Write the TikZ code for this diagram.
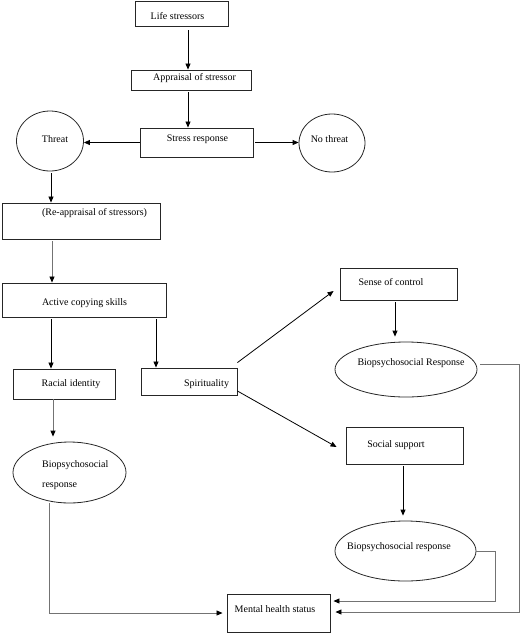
\documentclass[tikz,border=0pt]{standalone}
\usepackage{fontspec}
\setmainfont{Liberation Serif}
\usetikzlibrary{shapes.geometric,arrows.meta}
\begin{document}
\begin{tikzpicture}[x=1pt,y=-1pt,
  box/.style={draw=black!85,line width=0.9pt,rectangle,inner sep=0pt},
  oval/.style={draw=black!85,line width=0.8pt,ellipse,inner sep=0pt},
  txt/.style={inner sep=0pt,font=\fontsize{10}{12}\selectfont,anchor=center},
  arr/.style={draw=black,line width=0.8pt,-{Triangle[length=6pt,width=5pt]}},
  garr/.style={draw=black!55,line width=0.8pt,-{Triangle[length=6pt,width=5pt,color=black]}}]
\useasboundingbox (0,0) rectangle (521,633);
% boxes
\node[box,minimum width=93pt,minimum height=25pt] (life) at (181.5,13.5) {};
\node[box,minimum width=120pt,minimum height=20pt] (appr) at (191,80) {};
\node[box,minimum width=113pt,minimum height=29pt] (stress) at (196.5,142.5) {};
\node[oval,minimum width=67pt,minimum height=60pt] (threat) at (50,141) {};
\node[oval,minimum width=66pt,minimum height=58pt] (nothreat) at (332,143) {};
\node[box,minimum width=158pt,minimum height=36pt] (reapp) at (81,221) {};
\node[box,minimum width=164pt,minimum height=34pt] (active) at (84,300) {};
\node[box,minimum width=102pt,minimum height=30pt] (racial) at (64,384) {};
\node[box,minimum width=96pt,minimum height=27pt] (spirit) at (189,381.5) {};
\node[box,minimum width=117pt,minimum height=32pt] (sense) at (398.5,284) {};
\node[oval,minimum width=142pt,minimum height=55pt] (bioA) at (406,369.5) {};
\node[box,minimum width=117pt,minimum height=37pt] (social) at (404.5,445.5) {};
\node[oval,minimum width=141pt,minimum height=60pt] (bioB) at (405.5,551) {};
\node[oval,minimum width=113pt,minimum height=61pt] (bioL) at (69.5,472.5) {};
\node[box,minimum width=103pt,minimum height=38pt] (mental) at (278.5,613) {};
% texts
\node[txt] (tlife) at (177.5,16) {Life stressors};
\node[txt] (tappr) at (194.5,78) {Appraisal of stressor};
\node[txt] (tstress) at (197.5,139) {Stress response};
\node[txt] (tthreat) at (55,139) {Threat};
\node[txt] (tnothreat) at (329.5,139) {No threat};
\node[txt] (treapp) at (94.5,213) {(Re-appraisal of stressors)};
\node[txt] (tactive) at (84.5,303) {Active copying skills};
\node[txt] (tracial) at (71,384) {Racial identity};
\node[txt] (tspirit) at (206.5,384) {Spirituality};
\node[txt] (tsense) at (391,282) {Sense of control};
\node[txt] (tbioA) at (411,363) {Biopsychosocial Response};
\node[txt] (tsocial) at (396,445) {Social support};
\node[txt] (tbioB) at (399,547) {Biopsychosocial response};
\node[txt,anchor=west] (tbioL1) at (42,465) {Biopsychosocial};
\node[txt,anchor=west] (tbioL2) at (42,486) {response};
\node[txt] (tmental) at (275,609) {Mental health status};
% connectors
\draw[arr] ([xshift=6.5pt,yshift=-4pt]life.south) -- ([xshift=-3pt]appr.north);
\draw[arr] ([xshift=-3pt,yshift=-2pt]appr.south) -- ([xshift=-8.5pt]stress.north);
\draw[arr] (stress.west) -- (stress.west -| threat.east);
\draw[arr] ([xshift=2pt]stress.east) -- (stress.east -| nothreat.west);
\draw[arr] ([xshift=1pt,yshift=-2pt]threat.south) coordinate (c1) -- (c1 |- reapp.north);
\draw[garr] ([xshift=-29pt,yshift=-2pt]reapp.south) coordinate (c2) -- (c2 |- active.north);
\draw[arr] ([xshift=-33pt,yshift=-2pt]active.south) coordinate (c3) -- (c3 |- racial.north);
\draw[arr] ([xshift=72pt,yshift=-2pt]active.south) coordinate (c4) -- (c4 |- spirit.north);
\draw[arr] ([yshift=5pt]spirit.north east) -- ([xshift=-6pt,yshift=-7pt]sense.west);
\draw[arr] ([xshift=-3.5pt,yshift=-2pt]sense.south) coordinate (c5) -- ([yshift=5pt]c5 |- bioA.north);
\draw[arr] ([yshift=-9.5pt]spirit.east) -- ([xshift=-9pt,yshift=-1.5pt]social.west);
\draw[arr] ([xshift=-1.5pt,yshift=-2pt]social.south) coordinate (c6) -- ([yshift=5pt]c6 |- bioB.north);
\draw[garr] ([xshift=-11pt]racial.south) coordinate (c7) -- ([yshift=5pt]c7 |- bioL.north);
\draw[garr] ([xshift=-20.5pt]bioL.south) |- ([xshift=-4pt]mental.west);
\coordinate (rA) at (519,364);
\coordinate (rB) at (495,551);
\draw[garr] ([xshift=3pt,yshift=5.5pt]bioA.east) -- (rA) |- ([xshift=5pt,yshift=1pt]mental.east);
\draw[garr] (bioB.east) -- (rB) |- ([xshift=3pt,yshift=12pt]mental.east);
\end{tikzpicture}
\end{document}
